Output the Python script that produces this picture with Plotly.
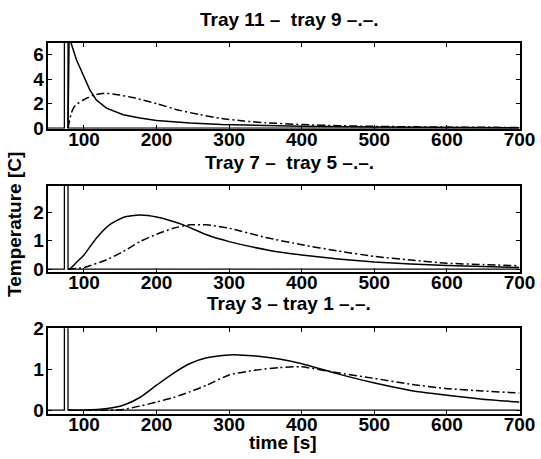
import plotly.graph_objects as go

# Step heating pulse applied to the column
pulse_t = [50, 73, 73, 78, 78, 700]
pulse_y = [0, 0, 60, 60, 0, 0]

# Tray 11 (solid) and tray 9 (dash-dot)
t11 = [78, 79.5, 82, 85, 89.6, 94, 99, 108, 117, 131, 154, 177, 200, 246, 290, 350, 400, 500, 600, 700]
T11 = [0, 7.6, 7.0, 6.4, 5.6, 5.0, 4.3, 3.13, 2.3, 1.63, 1.09, 0.82, 0.63, 0.41, 0.29, 0.2, 0.15, 0.09, 0.05, 0.03]
t9 = [78, 80, 83, 86, 90, 99, 112, 126, 140, 167, 200, 232, 260, 290, 320, 350, 400, 450, 500, 600, 700]
T9 = [0, 0.6, 1.3, 1.7, 1.95, 2.3, 2.68, 2.84, 2.8, 2.5, 2.0, 1.45, 1.1, 0.78, 0.58, 0.44, 0.29, 0.2, 0.14, 0.08, 0.05]

# Tray 7 (solid) and tray 5 (dash-dot)
t7 = [78, 81, 90, 100, 117, 135, 154, 177, 200, 237, 269, 300, 356, 400, 450, 500, 550, 600, 650, 700]
T7 = [0, 0.02, 0.25, 0.5, 1.09, 1.56, 1.82, 1.91, 1.84, 1.56, 1.21, 0.97, 0.66, 0.5, 0.36, 0.25, 0.18, 0.13, 0.09, 0.06]
t5 = [78, 81, 100, 131, 154, 177, 200, 223, 246, 269, 300, 350, 400, 450, 500, 550, 600, 650, 700]
T5 = [0, 0.0, 0.06, 0.33, 0.62, 0.97, 1.23, 1.44, 1.56, 1.56, 1.44, 1.12, 0.86, 0.64, 0.45, 0.32, 0.21, 0.16, 0.12]

# Tray 3 (solid) and tray 1 (dash-dot)
t3 = [78, 100, 132, 154, 177, 200, 223, 246, 269, 300, 314, 340, 369, 399, 447, 499, 548, 598, 649, 700]
T3 = [0, 0, 0.04, 0.12, 0.31, 0.61, 0.9, 1.14, 1.28, 1.35, 1.35, 1.32, 1.25, 1.14, 0.9, 0.67, 0.49, 0.37, 0.27, 0.2]
t1 = [78, 132, 154, 177, 200, 223, 246, 269, 300, 337, 369, 399, 447, 499, 548, 598, 649, 700]
T1 = [0, 0, 0.02, 0.1, 0.2, 0.31, 0.45, 0.61, 0.86, 0.98, 1.04, 1.06, 0.92, 0.78, 0.64, 0.53, 0.47, 0.42]

titles = ["Tray 11 \u2013\u00a0 tray 9 \u2013.\u2013.",
          "Tray 7 \u2013\u00a0 tray 5 \u2013.\u2013.",
          "Tray 3 \u2013 tray 1 \u2013.\u2013."]
x_ticks = [100, 200, 300, 400, 500, 600, 700]
y_ticks = [[0, 2, 4, 6], [0, 1, 2], [0, 1, 2]]
y_ranges = [[-0.05, 6.97], [-0.09, 2.94], [-0.1, 2.0]]

W, H = 541, 459
FONT = dict(family="Liberation Sans, Arial, sans-serif", size=19, color="black", weight="bold")
left_px, right_px = 47.7, 519.5
panels_px = [(43.0, 128.7), (185.7, 271.7), (328.3, 414.3)]

fig = go.Figure()
series = [(t11, T11, t9, T9), (t7, T7, t5, T5), (t3, T3, t1, T1)]
for i, (ts, Ts, td, Td) in enumerate(series):
    xa = "x" if i == 0 else f"x{i+1}"
    ya = "y" if i == 0 else f"y{i+1}"
    fig.add_trace(go.Scatter(x=pulse_t, y=pulse_y, mode="lines", xaxis=xa, yaxis=ya,
                             line=dict(color="black", width=1.3), showlegend=False))
    fig.add_trace(go.Scatter(x=ts, y=Ts, mode="lines", xaxis=xa, yaxis=ya,
                             line=dict(color="black", width=1.5,
                                       shape="linear" if i == 0 else "spline", smoothing=0.6),
                             showlegend=False))
    fig.add_trace(go.Scatter(x=td, y=Td, mode="lines", xaxis=xa, yaxis=ya,
                             line=dict(color="black", width=1.5, dash="8px,3px,2px,3px",
                                       shape="spline", smoothing=0.6),
                             showlegend=False))

layout = dict(template="none", width=W, height=H, margin=dict(l=0, r=0, t=0, b=0, pad=0),
              paper_bgcolor="white", plot_bgcolor="white", font=FONT, showlegend=False)
for i, (top, bot) in enumerate(panels_px):
    sfx = "" if i == 0 else str(i + 1)
    layout["xaxis" + sfx] = dict(
        domain=[left_px / W, right_px / W], range=[50, 700], anchor="y" + sfx,
        tickvals=x_ticks, ticks="inside", ticklen=4, tickwidth=1.3, tickcolor="black",
        showline=True, linewidth=2, linecolor="black", mirror="ticks", automargin=False,
        ticklabelstandoff=-8, showgrid=False, zeroline=False, tickfont=FONT)
    layout["yaxis" + sfx] = dict(
        domain=[1 - bot / H, 1 - top / H], range=y_ranges[i], anchor="x" + sfx,
        tickvals=y_ticks[i], ticks="inside", ticklen=4, tickwidth=1.3, tickcolor="black",
        showline=True, linewidth=2, linecolor="black", mirror="ticks", automargin=False,
        ticklabelstandoff=-2, showgrid=False, zeroline=False, tickfont=FONT)
fig.update_layout(**layout)

title_y_px = [19, 162.5, 303.5]
for txt, yp in zip(titles, title_y_px):
    fig.add_annotation(text=txt, x=289 / W, y=1 - yp / H, xref="paper", yref="paper",
                       showarrow=False, font=FONT, xanchor="center", yanchor="middle")
fig.add_annotation(text="Temperature [C]", x=14 / W, y=1 - 225 / H, xref="paper", yref="paper",
                   showarrow=False, font=FONT, textangle=-90, xanchor="center", yanchor="middle")
fig.add_annotation(text="time [s]", x=283 / W, y=1 - 442 / H, xref="paper", yref="paper",
                   showarrow=False, font=FONT, xanchor="center", yanchor="middle")

fig.write_html("out.html",
               post_script="document.body.style.margin='0';document.body.style.overflow='hidden';")
